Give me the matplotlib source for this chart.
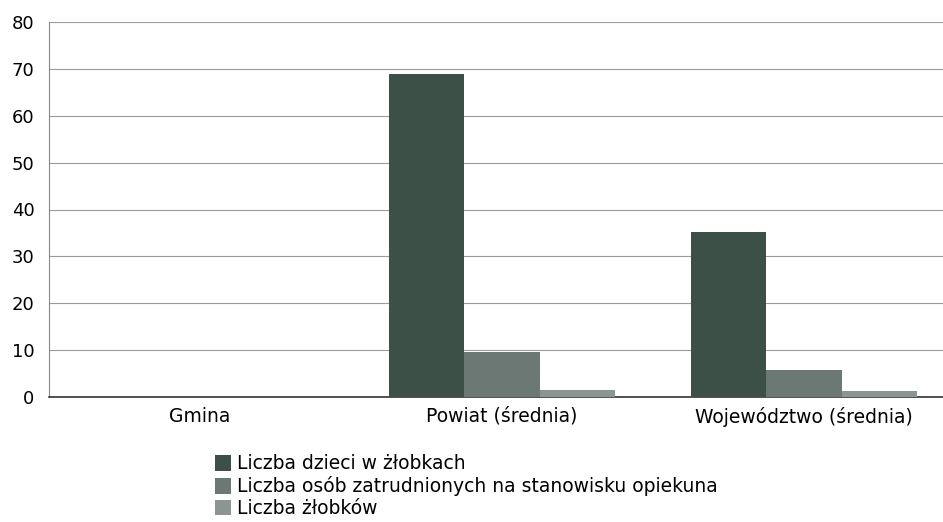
import numpy as np
import matplotlib.pyplot as plt

# dane
kategorie = ['Gmina', 'Powiat (średnia)', 'Województwo (średnia)']
dzieci = [0, 69, 35.2]
opiekunowie = [0, 9.5, 5.8]
zlobki = [0, 1.6, 1.3]
serie = ['Liczba dzieci w żłobkach',
         'Liczba osób zatrudnionych na stanowisku opiekuna',
         'Liczba żłobków']
kolory = ['#3d5048', '#6c7873', '#8b9592']

fig = plt.figure(figsize=(9.43, 5.22), dpi=100)
ax = fig.add_axes([49 / 943, 125 / 522, 906 / 943, 375 / 522])

x = np.arange(len(kategorie))
w = 0.25
for i, (vals, lab, c) in enumerate(zip([dzieci, opiekunowie, zlobki], serie, kolory)):
    ax.bar(x + (i - 1) * w, vals, w, color=c, label=lab, zorder=3)

ax.set_xlim(-0.5, 2.5)
ax.set_ylim(0, 80)
ax.set_yticks(range(0, 81, 10))
ax.set_xticks(x)
ax.set_xticklabels(kategorie, fontsize=13.5)
ax.tick_params(axis='y', labelsize=13, length=0, pad=10.5)
ax.tick_params(axis='x', length=0, pad=7)
ax.grid(axis='y', color='#9a9a9a', linewidth=0.8, zorder=0)
for s in ['top', 'right']:
    ax.spines[s].set_visible(False)
ax.spines['left'].set_color('#888888')
ax.spines['left'].set_linewidth(0.8)
ax.spines['bottom'].set_color('#333333')
ax.spines['bottom'].set_linewidth(1.2)

fig.legend(loc='upper left', bbox_to_anchor=(206 / 943, 1 - 445 / 522), frameon=False,
           fontsize=13.5, handlelength=0.85, handleheight=0.9, handletextpad=0.3,
           labelspacing=0.15, borderpad=0)

fig.savefig('out.png', dpi=100, facecolor='white')
